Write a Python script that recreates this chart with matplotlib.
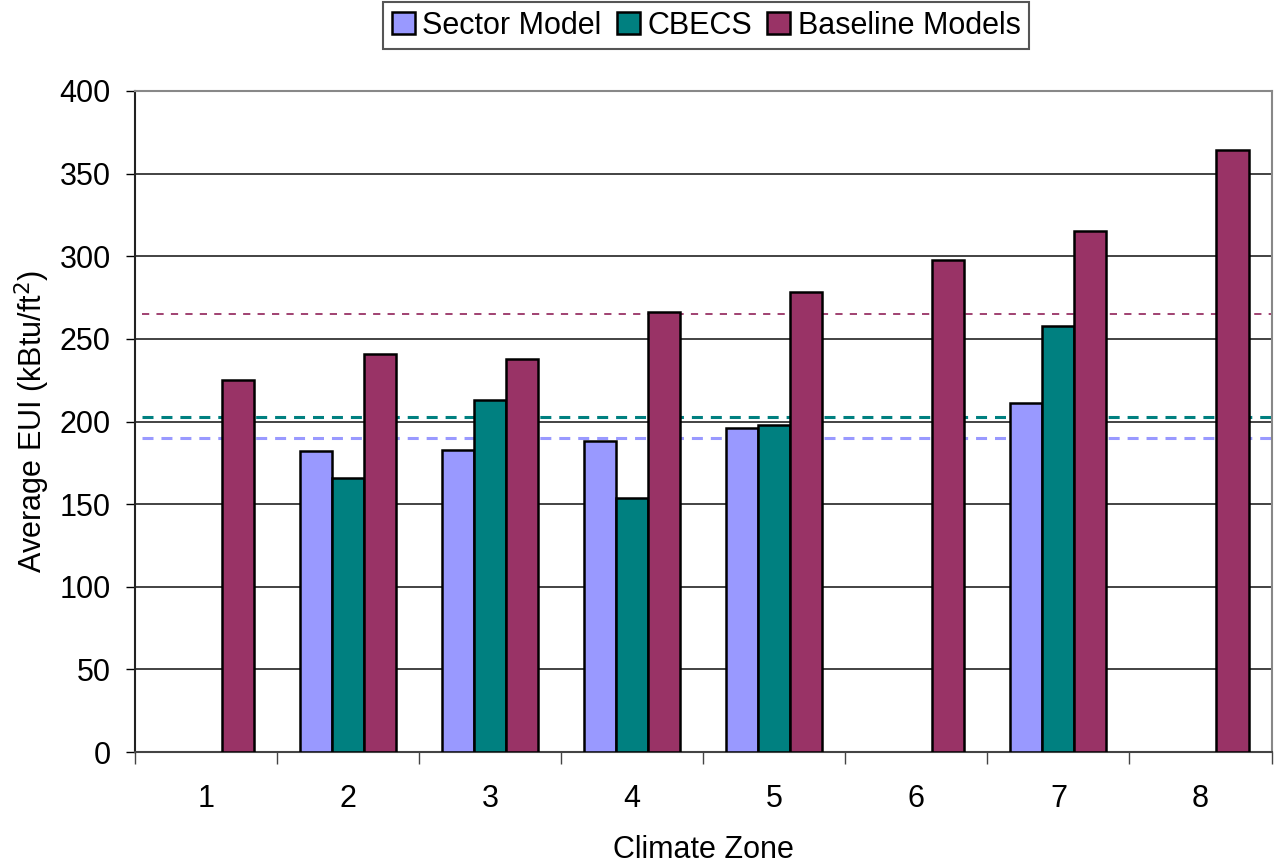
import numpy as np
import matplotlib
matplotlib.use('Agg')
import matplotlib.pyplot as plt
from matplotlib.ticker import MultipleLocator

plt.rcParams['font.family'] = ['Liberation Sans', 'DejaVu Sans']

# 데이터
zones = ['1', '2', '3', '4', '5', '6', '7', '8']
sector_model = [np.nan, 182, 183, 188, 196, np.nan, 211, np.nan]
cbecs = [np.nan, 166, 213, 154, 198, np.nan, 258, np.nan]
baseline_models = [225, 241, 238, 266, 278.5, 298, 315, 364]

# 평균선
avg_sector = 190
avg_cbecs = 202.5
avg_baseline = 265

c_sector = '#9999FF'
c_cbecs = '#008080'
c_base = '#993366'

fs = 22

fig = plt.figure(figsize=(12.77, 8.64), dpi=100)
ax = fig.add_axes([0.1057, 0.1296, 0.8900, 0.7651])

x = np.arange(1, len(zones) + 1)
w = 0.2255
ax.bar(x - w, sector_model, w, color=c_sector, edgecolor='black', linewidth=1.8, label='Sector Model', zorder=3)
ax.bar(x, cbecs, w, color=c_cbecs, edgecolor='black', linewidth=1.8, label='CBECS', zorder=3)
ax.bar(x + w, baseline_models, w, color=c_base, edgecolor='black', linewidth=1.8, label='Baseline Models', zorder=3)

# 평균 점선
ax.axhline(avg_baseline, xmin=0.006, xmax=1, color=c_base, lw=1.3, dashes=(4, 4), zorder=2)
ax.axhline(avg_cbecs, xmin=0.006, xmax=1, color=c_cbecs, lw=2.2, dashes=(3.6, 2.6), zorder=2)
ax.axhline(avg_sector, xmin=0.006, xmax=1, color=c_sector, lw=2.2, dashes=(3.6, 2.6), zorder=2)

ax.set_xlim(0.5, len(zones) + 0.5)
ax.set_ylim(0, 400)
ax.yaxis.set_major_locator(MultipleLocator(50))
ax.grid(axis='y', color='#222222', lw=1.2, zorder=1)
ax.set_axisbelow(True)

ax.set_xticks(x)
ax.set_xticklabels(zones)
ax.set_xticks(np.arange(0.5, len(zones) + 1, 1), minor=True)
ax.tick_params(axis='x', which='major', length=0, pad=23, labelsize=fs)
ax.tick_params(axis='x', which='minor', length=8.5, width=1, color='#444444')
ax.tick_params(axis='y', length=6.5, width=1, pad=11, labelsize=fs)

for side in ['top', 'right']:
    ax.spines[side].set_color('#888888')
    ax.spines[side].set_linewidth(1.5)
ax.spines['left'].set_color('#222222')
ax.spines['left'].set_linewidth(1.5)
ax.spines['bottom'].set_color('#444444')
ax.spines['bottom'].set_linewidth(1.5)

ax.set_xlabel('Climate Zone', fontsize=fs, labelpad=15)
ax.set_ylabel('Average EUI (kBtu/ft$^2$)', fontsize=fs, labelpad=5)

leg = fig.legend(loc='center', bbox_to_anchor=(0.553, 0.970), ncol=3, fontsize=fs,
                 frameon=True, fancybox=False, edgecolor='#555555', framealpha=1,
                 handlelength=0.75, handleheight=0.75, handletextpad=0.25,
                 columnspacing=0.5, borderpad=0.28, borderaxespad=0)
leg.get_frame().set_linewidth(1.5)

fig.savefig('out.png', dpi=100)
